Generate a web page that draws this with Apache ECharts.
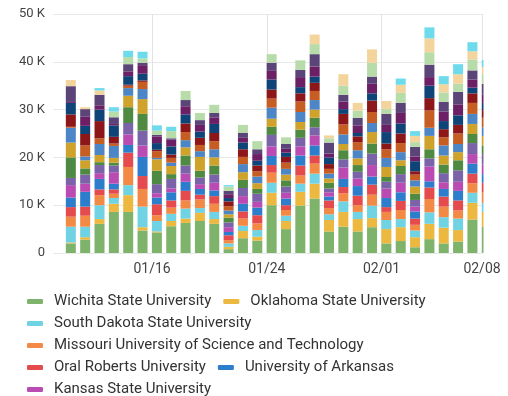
<!DOCTYPE html>
<html>
<head>
<meta charset="utf-8">
<script src="https://cdn.jsdelivr.net/npm/echarts@6/dist/echarts.min.js"></script>
<style>
html,body{margin:0;padding:0;background:#fff;}
#chart{width:508px;height:396px;}
</style>
</head>
<body>
<div id="chart"></div>
<script>
// Days (one bar per day)
const dates = [
  '2024-01-10','2024-01-11','2024-01-12','2024-01-13','2024-01-14','2024-01-15',
  '2024-01-16','2024-01-17','2024-01-18','2024-01-19','2024-01-20','2024-01-21',
  '2024-01-22','2024-01-23','2024-01-24','2024-01-25','2024-01-26','2024-01-27',
  '2024-01-28','2024-01-29','2024-01-30','2024-01-31','2024-02-01','2024-02-02',
  '2024-02-03','2024-02-04','2024-02-05','2024-02-06','2024-02-07','2024-02-08'
];
// x-axis tick labels
const xTickDates = ['2024-01-16','2024-01-24','2024-02-01','2024-02-08'];
const xAxisStart = '2024-01-09T02:10:00Z';
const xAxisEnd = '2024-02-08T00:00:00Z';
const reportOffsetHours = 8;
// y-axis ticks
const yTicks = [0, 10000, 20000, 30000, 40000, 50000];

const seriesNames = [
  'Wichita State University',
  'Oklahoma State University',
  'South Dakota State University',
  'Missouri University of Science and Technology',
  'Oral Roberts University',
  'University of Arkansas',
  'Kansas State University',
  'University of Arkansas at Little Rock',
  'University of Tulsa',
  'Pittsburg State University',
  'University of Kansas',
  'Emporia State University',
  'University of Oklahoma',
  'Missouri State University',
  'University of Central Oklahoma',
  'University of Nebraska–Lincoln',
  'Fort Hays State University',
  'Northeastern State University',
  'Southeast Missouri State University'
];

const wichitaState = [2000,2800,6100,8600,8600,4700,4300,5600,6300,6700,6100,800,3100,2600,10000,5000,9900,11400,4500,5500,4500,5400,2000,2500,1200,2900,2000,2400,7000,5500];
const oklahomaState = [200,500,1000,1700,3500,700,200,1100,900,1700,1000,500,1500,800,2600,1700,2900,3100,2400,3100,2600,1900,3000,2900,2100,3200,3300,2400,3500,3100];
const southDakotaState = [3300,2200,2900,1200,2100,4300,2200,1500,2100,1000,1500,700,1100,1400,2100,1100,1700,2100,1200,2200,1500,2600,1900,1700,1400,2400,2200,2400,2100,1900];
const missouriST = [2100,2300,2100,900,3800,3700,1200,1300,1700,1800,1700,700,1500,1400,2100,1200,1700,2100,1300,1700,1400,2300,1700,1900,1200,2800,2200,1700,2000,2200];
const oralRoberts = [2000,1900,1200,900,3000,2700,2300,1500,2000,1000,1600,1000,1500,1700,1600,1000,2100,1700,1600,1300,2000,2100,1000,1900,1300,2400,2100,2100,2000,2000];
const arkansas = [2000,3100,2200,1200,1600,4000,1400,1700,1900,1200,1200,700,1600,1600,1900,1400,2100,2100,800,1700,2000,1700,1900,1800,1500,1300,1600,2000,2100,1800];
const kansasState = [2600,1700,1200,2400,2200,2400,900,800,1700,1000,1600,1000,1600,1200,2000,1200,1900,2100,900,2400,1600,2400,2000,2000,1000,3100,1400,1900,2000,2000];
const arkansasLittleRock = [1500,1900,1700,1400,2400,3100,1900,2000,1700,1400,1700,1000,1700,1700,2400,1300,1800,1700,800,1700,1400,2400,1400,1800,1400,1700,1900,2400,2300,2200];
const tulsa = [4300,1300,600,600,3300,3500,2800,1000,2100,1400,1900,1000,1700,1000,1700,1300,1700,2000,1200,1900,1400,2100,1000,1700,1300,1900,1800,2100,1900,1800];
const pittsburgState = [3100,1700,1500,1000,2400,3100,2400,1700,1700,2900,1700,700,1600,1200,1700,1200,1600,1700,900,1300,1400,2400,2100,1200,1500,2800,1900,1700,2100,2000];
const kansas = [3100,800,2300,2500,1600,2100,300,700,1500,1200,1700,800,1700,1400,2300,1200,2100,2000,1000,2000,1700,1900,1900,1700,1300,1700,2100,1700,2100,1800];
const emporiaState = [200,2300,1200,500,500,1500,1400,1000,1700,1300,1700,900,1500,1100,1900,1300,2200,1900,1000,2100,1700,2300,1800,1900,1200,3600,1700,2200,2300,2000];
const oklahoma = [2600,2400,3600,1400,200,300,300,700,1800,1500,1700,1000,1600,1200,1900,1200,1700,1700,1000,2200,1200,2400,1200,2000,700,2600,1700,1800,2000,1600];
const missouriState = [2400,1700,2400,2400,1800,1400,1400,1700,1900,1300,1900,700,1400,1000,2100,900,1300,1300,1400,1000,700,1500,2400,2100,2100,2600,1700,2000,1200,1500];
const centralOklahoma = [200,1900,900,300,1000,1800,1400,1400,1700,1400,1300,800,1000,1400,1800,800,2100,2100,800,1600,1600,2000,1500,2200,1000,1800,2000,2300,1700,1800];
const nebraskaLincoln = [3300,1600,2200,1400,1500,500,300,300,1300,1000,1000,700,1000,1000,1700,1000,1500,2600,2300,1400,1600,1500,2300,2100,2000,2600,2000,2600,1900,2200];
const fortHaysState = [0,0,0,1200,1500,900,900,1500,1900,1500,1700,900,1700,1700,1800,1400,2000,2100,900,1900,1500,2900,1000,2100,1000,2600,2000,1700,2300,2000];
const northeasternState = [1300,400,900,0,0,0,0,0,0,0,0,0,0,0,0,0,0,2000,600,2400,1600,2800,1700,1700,1300,2900,1700,2000,1700,1500];
const southeastMissouriState = [0,0,500,900,1300,1400,1100,900,0,0,0,300,0,0,0,0,0,0,0,0,0,0,0,1300,1000,2300,1700,2100,1900,1500];

const seriesValues = [
  wichitaState, oklahomaState, southDakotaState, missouriST, oralRoberts, arkansas,
  kansasState, arkansasLittleRock, tulsa, pittsburgState, kansas, emporiaState,
  oklahoma, missouriState, centralOklahoma, nebraskaLincoln, fortHaysState,
  northeasternState, southeastMissouriState
];

const colors = [
  '#7db36b','#ecb83f','#70d3e3','#f28a45','#e54a4c','#2c7dcc','#b94bb2',
  '#7a63a8','#4f8a43','#cfa22b','#4c86c6','#c65e24','#8d1718','#0f4478',
  '#6c1f64','#5a4478','#b8dca9','#f4d49d','#6ddbeb'
];

function ts(d) { return new Date(d + (d.length === 10 ? 'T00:00:00Z' : '')).getTime(); }
const xs = dates.map(d => ts(d) + reportOffsetHours * 3600 * 1000);

const chart = echarts.init(document.getElementById('chart'), null, {renderer: 'canvas'});
const FONT = 'Roboto, "Noto Sans", sans-serif';

chart.setOption({
  animation: false,
  color: colors,
  grid: {left: 53, right: 26, top: 14, bottom: 143, containLabel: false},
  xAxis: {
    type: 'value',
    min: ts(xAxisStart),
    max: ts(xAxisEnd),
    axisLine: {show: false},
    axisTick: {show: false, customValues: xTickDates.map(ts)},
    axisLabel: {
      customValues: xTickDates.map(ts),
      color: '#444',
      fontSize: 14,
      fontFamily: FONT,
      margin: 9,
      formatter: v => {
        const d = new Date(v);
        const m = String(d.getUTCMonth() + 1).padStart(2, '0');
        const dd = String(d.getUTCDate()).padStart(2, '0');
        return m + '/' + dd;
      }
    },
    splitLine: {show: true, lineStyle: {color: '#e3e3e3', width: 1}}
  },
  yAxis: {
    type: 'value',
    min: yTicks[0],
    max: yTicks[yTicks.length - 1],
    interval: yTicks[1] - yTicks[0],
    axisLine: {show: false},
    axisTick: {show: false},
    axisLabel: {
      color: '#444',
      fontSize: 13,
      fontFamily: FONT,
      margin: 8,
      formatter: v => v === 0 ? '0' : (v / 1000) + ' K'
    },
    splitLine: {show: true, lineStyle: {color: '#e8e8e8', width: 1}}
  },
  legend: {
    left: 27,
    top: 293.5,
    padding: 0,
    width: 440,
    orient: 'horizontal',
    icon: 'roundRect',
    itemWidth: 16,
    itemHeight: 5,
    itemGap: 6,
    textStyle: {
      color: '#333',
      fontSize: 15,
      fontFamily: FONT,
      lineHeight: 16,
      padding: [0, 6, 0, 6]
    },
    data: seriesNames
  },
  series: seriesNames.map((name, i) => ({
    name: name,
    type: 'bar',
    stack: 'total',
    barWidth: 10,
    encode: {x: 1, y: 0},
    data: xs.map((x, j) => [seriesValues[i][j], x])
  }))
});

// Clip bars at the right end of the plot area (value-axis bars are not clipped by ECharts there)
const edge = chart.convertToPixel({gridIndex: 0}, [ts(xAxisEnd), yTicks[0]]);
chart.setOption({
  graphic: [{
    type: 'rect',
    z: 100,
    silent: true,
    shape: {x: edge[0] + 1.5, y: 0, width: 508 - edge[0], height: edge[1] + 0.5},
    style: {fill: '#fff'}
  }]
});
</script>
</body>
</html>
